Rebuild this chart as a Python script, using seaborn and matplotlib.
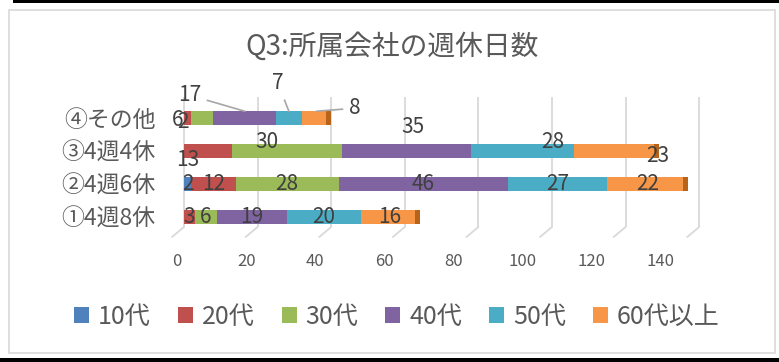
import matplotlib
matplotlib.use("Agg")
import matplotlib.pyplot as plt
from matplotlib.patches import Patch, Rectangle
from matplotlib.lines import Line2D
import seaborn as sns
import pandas as pd
import numpy as np

# ---------------- data ----------------
categories = ["④その他", "③4週4休", "②4週6休", "①4週8休"]   # top -> bottom
series = ["10代", "20代", "30代", "40代", "50代", "60代以上"]
v_10 = [0, 0, 2, 0]
v_20 = [2, 13, 12, 3]
v_30 = [6, 30, 28, 6]
v_40 = [17, 35, 46, 19]
v_50 = [7, 28, 27, 20]
v_60 = [8, 23, 22, 16]
x_ticks = [0, 20, 40, 60, 80, 100, 120, 140]
title = "Q3:所属会社の週休日数"

colors = ["#4F81BD", "#C0504D", "#9BBB59", "#8064A2", "#4BACC6", "#F79646"]
cap_color = "#B8631A"

# label offsets in pixels (dx, dy up), and whether a leader line is drawn
label_offsets = {
    ("③4週4休", "20代"): (-20, -9, False),
    ("③4週4休", "30代"): (-20, 9, False),
    ("③4週4休", "40代"): (6, 24, False),
    ("③4週4休", "50代"): (30, 9, False),
    ("③4週4休", "60代以上"): (41, -5, False),
    ("④その他", "20代"): (-5, -4, False),
    ("④その他", "30代"): (-25, -2, False),
    ("④その他", "40代"): (-55, 16, True),
    ("④その他", "50代"): (-11, 28, True),
    ("④その他", "60代以上"): (38, 3, True),
}

sns.set_theme(style="white")
plt.rcParams["font.family"] = ["Noto Sans CJK JP", "DejaVu Sans"]

W, H = 779, 362
fig = plt.figure(figsize=(W / 100, H / 100), dpi=100)
fig.patch.set_facecolor("white")

L, R, T, B = 177, 720, 97, 227
ax = fig.add_axes([L / W, 1 - B / H, (R - L) / W, (B - T) / H])

values = np.array([v_10, v_20, v_30, v_40, v_50, v_60], dtype=float)  # series x cat
cum = np.cumsum(values, axis=0)

df = pd.DataFrame({"cat": categories})
for i, s in enumerate(series):
    df[s] = cum[i]

bar_h = 0.45
# draw from the full total downwards so each layer shows its own segment
for i in range(len(series) - 1, -1, -1):
    sns.barplot(data=df, y="cat", x=series[i], order=categories, orient="h",
                color=colors[i], saturation=1, width=bar_h, errorbar=None,
                ax=ax, linewidth=0)

# darker 3D end-cap on each bar
totals = cum[-1]
for j, t in enumerate(totals):
    ax.barh(j, 1.3, left=t - 1.3, height=bar_h * 0.92, color=cap_color, linewidth=0, zorder=3)

x0_px = 184
scale = 3.68
row_px = 33.0
ax.set_xlim((L - x0_px) / scale, (R - x0_px) / scale)
y_bottom = 3 + (B - 217) / row_px
y_top = 3 - (217 - T) / row_px
ax.set_ylim(y_bottom, y_top)
ax.set_xticks(x_ticks)
ax.grid(axis="x", color="#D9D9D9", linewidth=1.3)
ax.grid(axis="y", visible=False)
ax.set_axisbelow(True)
for sp in ax.spines.values():
    sp.set_visible(False)
ax.tick_params(axis="x", labelbottom=False, length=0)
ax.tick_params(axis="y", length=0, pad=15.5, labelsize=16.5, labelcolor="#595959")
ax.set_xlabel("")
ax.set_ylabel("")

# front-floor axis for tick labels (perspective)
front_scale = 3.457
ax2 = ax.twiny()
ax2.set_xlim(-0.01, (R - L) / front_scale)
ax2.set_xticks(x_ticks)
ax2.set_xticklabels([str(t) for t in x_ticks])
ax2.xaxis.set_ticks_position("bottom")
ax2.xaxis.set_label_position("bottom")
ax2.tick_params(axis="x", length=0, pad=19, labelsize=12, labelcolor="#595959")
ax2.grid(False)
for sp in ax2.spines.values():
    sp.set_visible(False)

# slanted floor segments at the foot of each gridline
inv = fig.transFigure.inverted()
for t in x_ticks:
    p1 = ax.transData.transform((t, y_bottom))
    p2 = p1 + np.array([-12, -10])
    f = inv.transform([p1, p2])
    fig.add_artist(Line2D([f[0][0], f[1][0]], [f[0][1], f[1][1]],
                          transform=fig.transFigure, color="#D9D9D9", lw=1.3))

# data labels
for j, c in enumerate(categories):
    for i, s in enumerate(series):
        v = values[i][j]
        if v <= 0:
            continue
        center = cum[i][j] - v / 2
        dx, dy, leader = label_offsets.get((c, s), (0, 0, False))
        if leader:
            ax.annotate(str(int(v)), xy=(center, j - bar_h / 2 + 0.02),
                        xytext=(dx, dy), textcoords="offset pixels",
                        ha="center", va="center", fontsize=15, color="#404040",
                        arrowprops=dict(arrowstyle="-", color="#A6A6A6", lw=1.2,
                                        shrinkA=2, shrinkB=0),
                        annotation_clip=False, zorder=5)
        else:
            ax.annotate(str(int(v)), xy=(center, j), xytext=(dx, dy),
                        textcoords="offset pixels", ha="center", va="center",
                        fontsize=15, color="#404040", annotation_clip=False, zorder=5)

# title
fig.text(392 / W, 1 - 47 / H, title, ha="center", va="center", fontsize=20, color="#595959")

# legend
handles = [Patch(facecolor=c, edgecolor="none") for c in colors]
fig.legend(handles, series, loc="center", bbox_to_anchor=(397 / W, 1 - 317 / H),
           ncol=6, frameon=False, fontsize=18, handlelength=0.6, handleheight=0.6,
           handletextpad=0.36, columnspacing=1.08, labelcolor="#595959",
           borderaxespad=0, borderpad=0)

# chart-area border and screenshot edges
fig.add_artist(Rectangle((9 / W, 1 - 353 / H), (775 - 9) / W, (353 - 10) / H,
                         transform=fig.transFigure, fill=False,
                         edgecolor="#D9D9D9", lw=1.2))
fig.add_artist(Rectangle((13 / W, 1 - 3 / H), (W - 13) / W, 3 / H,
                         transform=fig.transFigure, facecolor="black", edgecolor="none"))
fig.add_artist(Rectangle((0, 0), 1, 4 / H,
                         transform=fig.transFigure, facecolor="black", edgecolor="none"))

fig.savefig("out.png", dpi=100, facecolor="white")
